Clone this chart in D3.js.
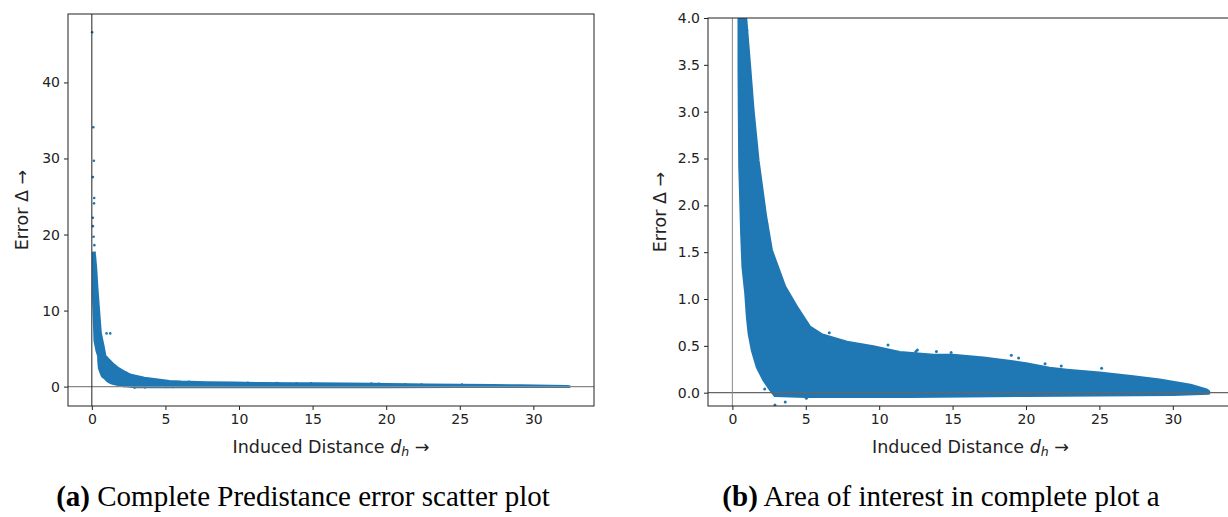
<!DOCTYPE html>
<html>
<head>
<meta charset="utf-8">
<script src="https://cdn.jsdelivr.net/npm/d3@7"></script>
<style>
body { margin: 0; background: #fff; }
svg { display: block; }
text { font-family: 'DejaVu Sans', sans-serif; fill: #222; }
.caption { font-family: 'Liberation Serif', 'Times New Roman', serif; font-size: 29px; fill: #000; }
</style>
</head>
<body>
<script>
// dense band of the scatter: upper edge and lower / left edge
const upperX = [0.12, 0.2, 0.28, 0.37, 0.47, 0.59, 0.75, 0.91, 1.18, 1.41, 1.75, 2.27, 2.66, 3.57, 4.36, 5.27, 6.07, 7.8, 9.6, 11.4, 13.7, 15.0, 17.1, 19.1, 20.0, 21.6, 22.8, 25.0, 27.3, 29.1, 31.2, 32.3, 32.45];
const upperY = [17.6, 17.3, 15.5, 12.7, 10.1, 7.05, 5.6, 4.0, 3.48, 3.02, 2.48, 1.88, 1.52, 1.13, 0.92, 0.70, 0.62, 0.54, 0.49, 0.43, 0.40, 0.40, 0.37, 0.33, 0.31, 0.26, 0.24, 0.21, 0.17, 0.135, 0.08, 0.03, 0.01];
const lowerX = [0.1, 0.11, 0.2, 0.35, 0.45, 0.45, 0.47, 0.5, 0.63, 0.72, 0.91, 1.02, 1.14, 1.36, 1.7, 2.16, 2.6, 2.9, 5.0, 12.0, 16.0, 20.0, 25.0, 30.0, 32.45];
const lowerY = [17.6, 11.4, 6.0, 4.6, 4.0, 3.48, 3.0, 2.42, 1.70, 1.34, 1.06, 0.81, 0.63, 0.45, 0.27, 0.13, 0.03, -0.03, -0.04, -0.04, -0.035, -0.03, -0.025, -0.02, -0.005];

// isolated points outside the band
const outX = [0.02, 0.1, 0.14, 0.07, 0.16, 0.15, 0.07, 0.07, 0.12, 0.17, 0.2, 1.0, 1.25, 0.98, 2.35, 6.6, 10.6, 12.5, 12.6, 13.9, 14.9, 19.0, 19.5, 21.3, 22.4, 25.15, 2.2, 2.97, 3.6, 2.9, 5.04, 5.5];
const outY = [46.6, 34.1, 29.7, 27.55, 24.8, 24.1, 22.2, 21.1, 19.7, 18.6, 17.6, 7.0, 7.0, 3.87, 1.80, 0.64, 0.51, 0.44, 0.455, 0.44, 0.43, 0.40, 0.37, 0.31, 0.285, 0.26, 0.04, -0.03, -0.10, -0.13, -0.06, -0.04];

const xTicks = [0, 5, 10, 15, 20, 25, 30];
const yTicksA = [0, 10, 20, 30, 40];
const yTicksB = [0.0, 0.5, 1.0, 1.5, 2.0, 2.5, 3.0, 3.5, 4.0];

const blue = '#1f77b4';

const svg = d3.select('body')
    .append('svg')
    .attr('width', 1228)
    .attr('height', 517);

const band = upperX.map((x, i) => [x, upperY[i]])
    .concat(lowerX.map((x, i) => [x, lowerY[i]]).reverse());
const points = outX.map((x, i) => [x, outY[i]]);

const panels = [
    {id: 'a', left: 68, right: 594, top: 14, bottom: 406, xDom: [-1.62, 34.12], yDom: [-2.55, 49.0],
        yTicks: yTicksA, fmt: d3.format('d'), vColor: '#222', hColor: '#888', r: 1.3, ylabX: 28,
        caption: 'Complete Predistance error scatter plot', capX: 303},
    {id: 'b', left: 708, right: 1233, top: 18, bottom: 406, xDom: [-1.66, 34.1], yDom: [-0.142, 4.0],
        yTicks: yTicksB, fmt: d3.format('.1f'), vColor: '#888', hColor: '#666', r: 1.5, ylabX: 666,
        caption: 'Area of interest in complete plot a', capX: 941}
];

panels.forEach(p => {
    const x = d3.scaleLinear().domain(p.xDom).range([p.left, p.right]);
    const y = d3.scaleLinear().domain(p.yDom).range([p.bottom, p.top]);
    const g = svg.append('g');

    g.append('clipPath')
        .attr('id', 'clip-' + p.id)
        .append('rect')
        .attr('x', p.left)
        .attr('y', p.top)
        .attr('width', p.right - p.left)
        .attr('height', p.bottom - p.top);

    const plot = g.append('g').attr('clip-path', 'url(#clip-' + p.id + ')');

    plot.append('path')
        .datum(band)
        .attr('d', d3.line().x(d => x(d[0])).y(d => y(d[1])).curve(d3.curveLinearClosed))
        .attr('fill', blue)
        .attr('stroke', blue)
        .attr('stroke-width', p.r * 2)
        .attr('stroke-linejoin', 'round');

    plot.selectAll('.pt')
        .data(points)
        .enter()
        .append('circle')
        .attr('cx', d => x(d[0]))
        .attr('cy', d => y(d[1]))
        .attr('r', p.r)
        .attr('fill', blue);

    // reference lines at zero
    plot.append('line')
        .attr('x1', p.left).attr('x2', p.right)
        .attr('y1', y(0)).attr('y2', y(0))
        .attr('stroke', p.hColor)
        .attr('stroke-width', 1.2);
    plot.append('line')
        .attr('x1', x(0)).attr('x2', x(0))
        .attr('y1', p.top).attr('y2', p.bottom)
        .attr('stroke', p.vColor)
        .attr('stroke-width', 1);

    // axes
    const xAxis = g.append('g')
        .attr('transform', 'translate(0,' + p.bottom + ')')
        .call(d3.axisBottom(x).tickValues(xTicks).tickSize(4).tickPadding(4).tickSizeOuter(0));
    const yAxis = g.append('g')
        .attr('transform', 'translate(' + p.left + ',0)')
        .call(d3.axisLeft(y).tickValues(p.yTicks).tickFormat(p.fmt).tickSize(4).tickPadding(4).tickSizeOuter(0));
    [xAxis, yAxis].forEach(a => {
        a.select('.domain').remove();
        a.selectAll('line').attr('stroke', '#222');
        a.selectAll('text').style('font-size', '14px').attr('fill', '#222');
    });

    g.append('rect')
        .attr('x', p.left)
        .attr('y', p.top)
        .attr('width', p.right - p.left)
        .attr('height', p.bottom - p.top)
        .attr('fill', 'none')
        .attr('stroke', '#222')
        .attr('stroke-width', 1);

    // axis titles
    const xl = g.append('text')
        .attr('x', (p.left + p.right) / 2)
        .attr('y', 453)
        .attr('text-anchor', 'middle')
        .style('font-size', '17.5px');
    xl.append('tspan').text('Induced Distance ');
    xl.append('tspan').style('font-style', 'italic').text('d');
    xl.append('tspan').style('font-style', 'italic').style('font-size', '12.5px').attr('dy', 3).text('h');
    xl.append('tspan').attr('dy', -3).text(' \u2192');

    g.append('text')
        .attr('transform', 'translate(' + p.ylabX + ',' + ((p.top + p.bottom) / 2) + ') rotate(-90)')
        .attr('text-anchor', 'middle')
        .style('font-size', '17.5px')
        .text('Error \u0394 \u2192');

    // caption
    const cap = g.append('text')
        .attr('class', 'caption')
        .attr('x', p.capX)
        .attr('y', 506)
        .attr('text-anchor', 'middle');
    cap.append('tspan').style('font-weight', 'bold').text('(' + p.id + ')');
    cap.append('tspan').text(' ' + p.caption);
});
</script>
</body>
</html>
